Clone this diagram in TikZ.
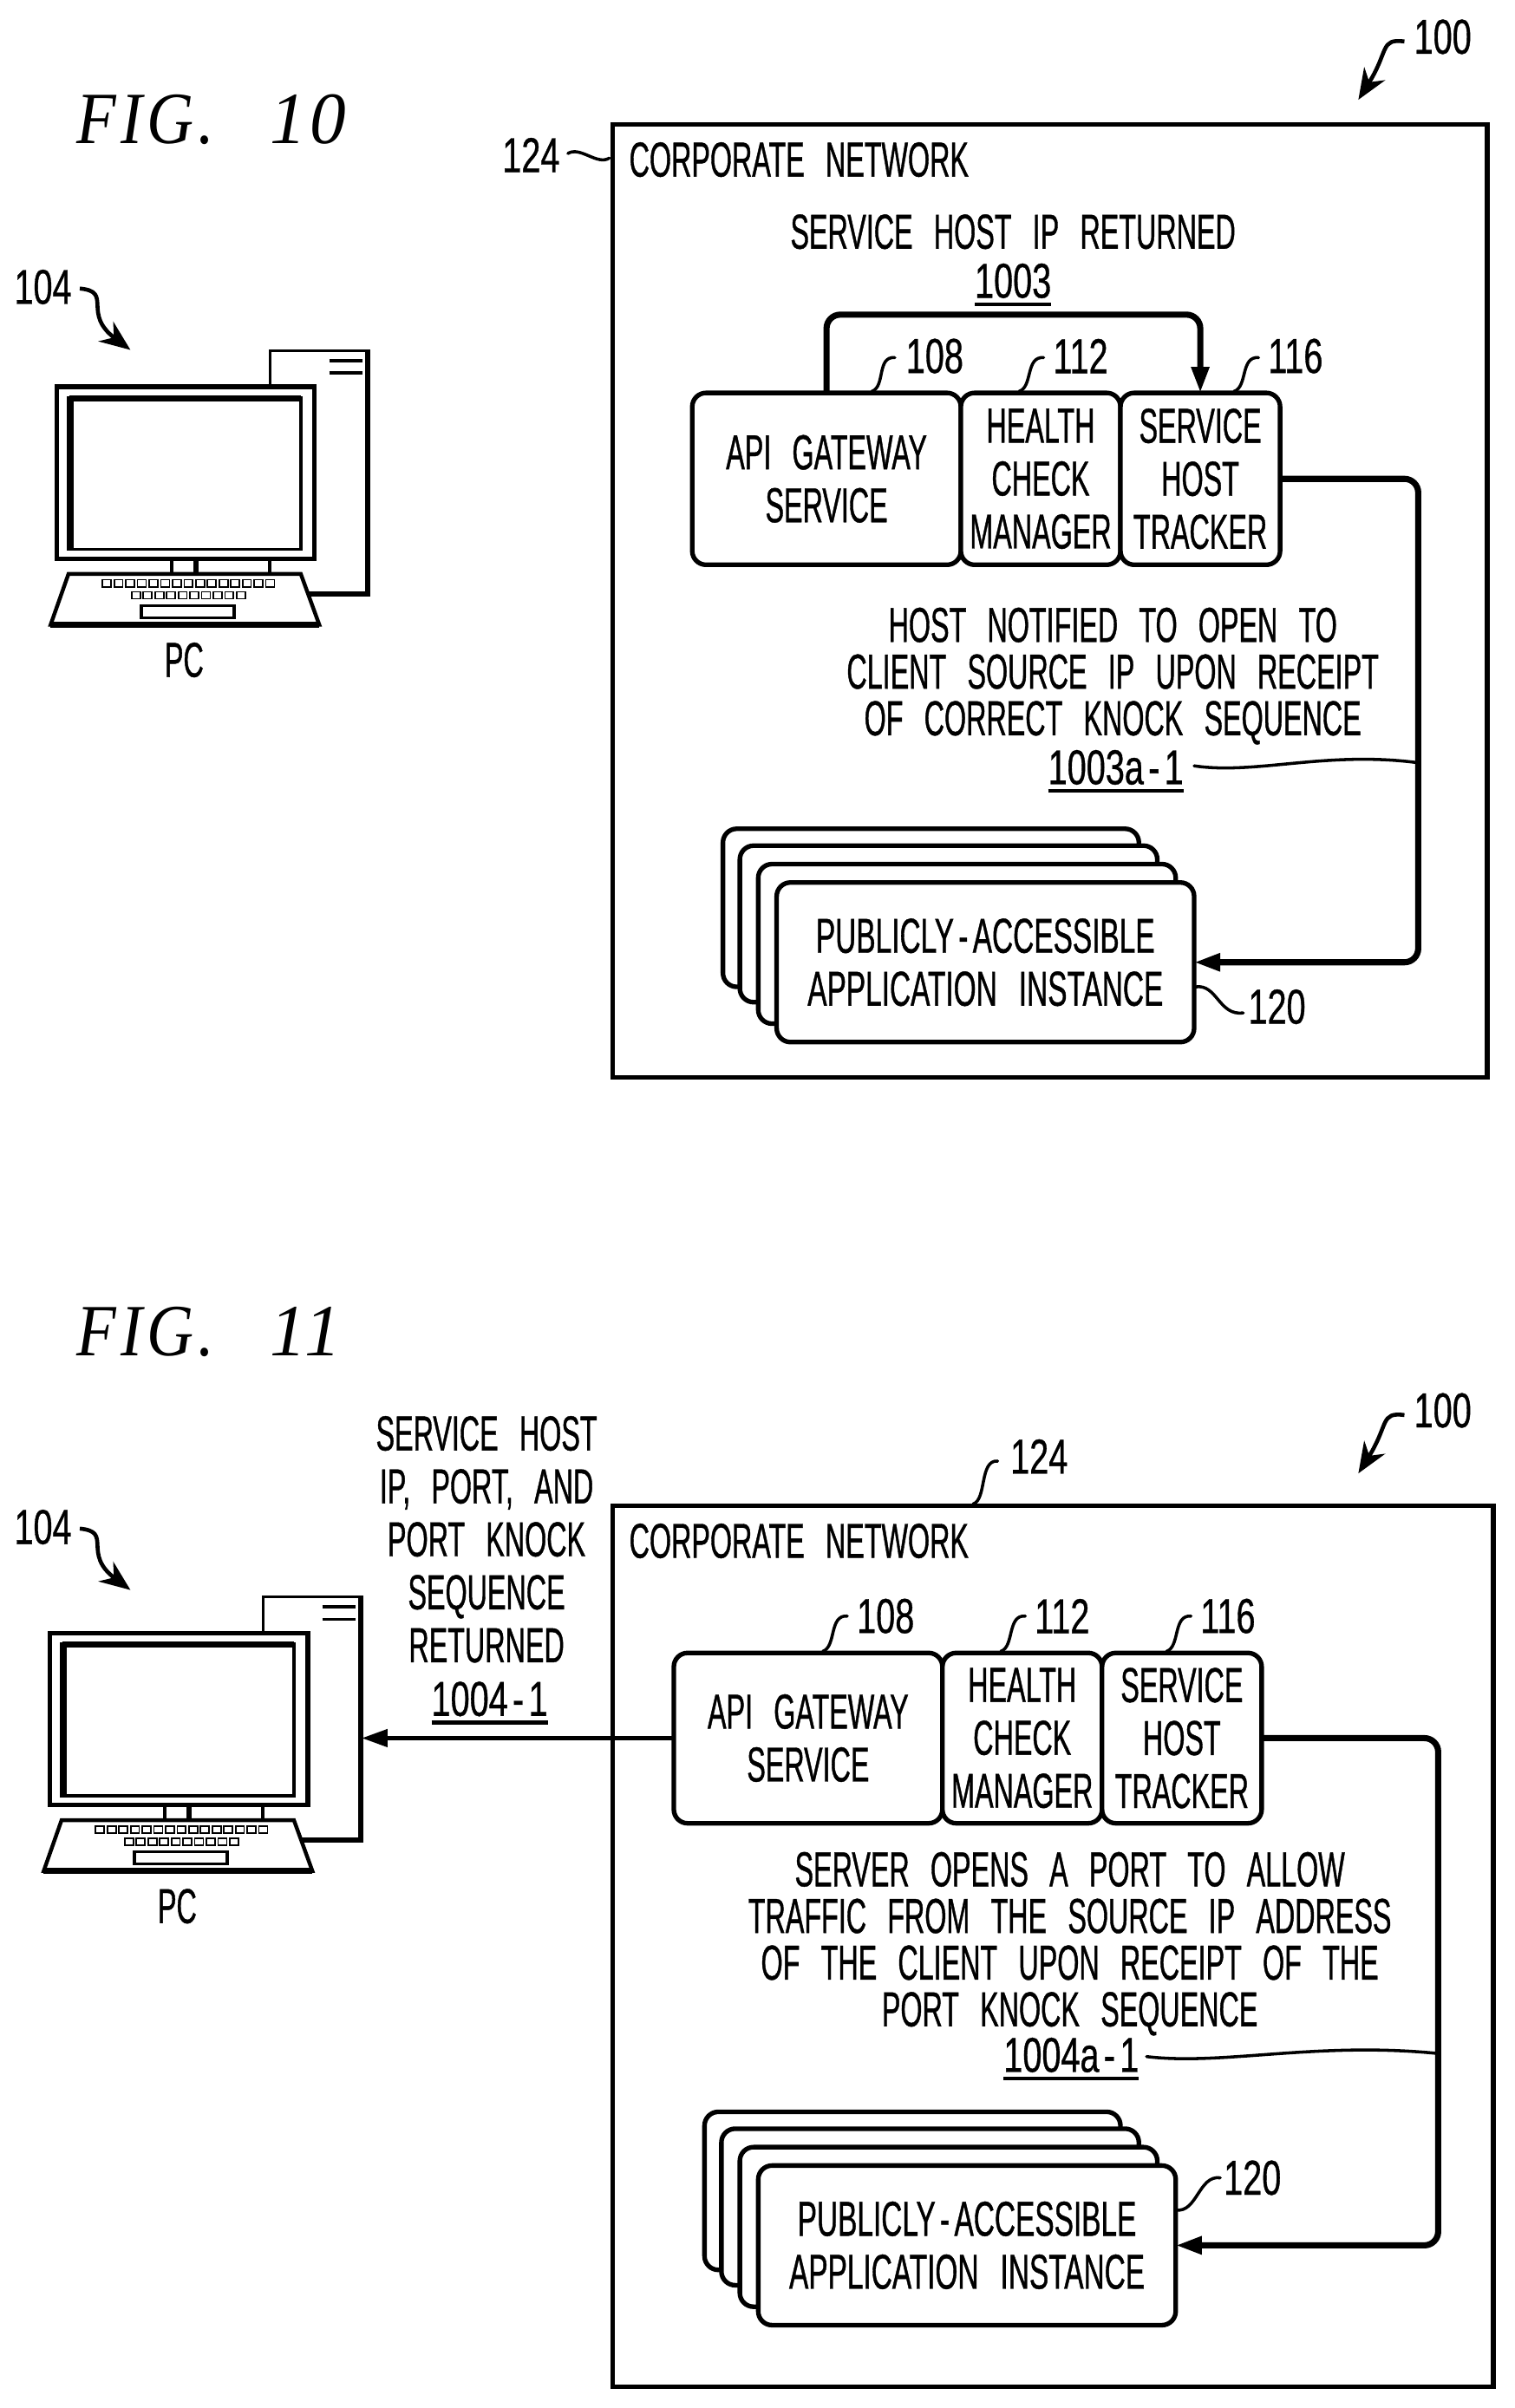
\documentclass[tikz,border=0pt]{standalone}
\usepackage{fontspec}
\usetikzlibrary{arrows.meta,calc}
\newfontfamily\patent[FakeStretch=0.57,FakeBold=0.7,WordSpace=2.7]{Liberation Sans}
\newfontfamily\patentwide[FakeStretch=0.59,FakeBold=0.7,WordSpace=2.7]{Liberation Sans}
\newfontfamily\patentnum[FakeStretch=0.7,FakeBold=0.6,WordSpace=2]{Liberation Sans}
\newfontfamily\figfonta[FakeStretch=0.88,LetterSpace=6]{Liberation Serif Italic}
\newfontfamily\figfontb[FakeStretch=0.98,LetterSpace=6]{Liberation Serif Italic}
\newsavebox{\ulbox}
\newcommand{\thickul}[1]{\sbox{\ulbox}{#1}\rlap{\raisebox{-5.5pt}[0pt][0pt]{\rule{\wd\ulbox}{2.4pt}}}\usebox{\ulbox}}
\newcommand{\dashk}{\kern3pt-\kern3pt}
\tikzset{
  boxlbl/.style={font=\fontsize{32}{34.5}\selectfont\patent,align=center,inner sep=0pt,outer sep=0pt},
  stacklbl/.style={font=\fontsize{32}{34.5}\selectfont\patentwide,align=center,inner sep=0pt,outer sep=0pt},
  notelbl/.style={font=\fontsize{32}{30.4}\selectfont\patent,align=center,inner sep=0pt},
  reflbl/.style={font=\fontsize{32}{34}\selectfont\patentnum,inner sep=0pt},
  figlbl/.style={font=\fontsize{48}{50}\selectfont,anchor=west,inner sep=0pt},
  rbox/.style={draw=black,line width=3pt,rounded corners=9pt,fill=white,inner sep=0pt,outer sep=0pt},
  frame/.style={draw=black,line width=3pt,fill=none,inner sep=0pt,outer sep=0pt},
  conn/.style={draw=black,line width=4pt,rounded corners=9pt,-{Triangle[length=17pt,width=11pt]}},
  plainconn/.style={draw=black,line width=3.2pt,-{Triangle[length=17pt,width=11pt]}},
  leaderln/.style={draw=black,line width=2pt,line cap=round},
  curlyarrow/.style={draw=black,line width=2.6pt,-{Stealth[length=20pt,width=16pt]}},
  keycap/.style={draw=black,line width=1pt,fill=white},
}
% leader: start, end, offset of first control, offset of second control
\newcommand{\leaderline}[4]{%
  \coordinate (ldA) at #1; \coordinate (ldB) at #2;
  \draw[leaderln] (ldA) .. controls ($(ldA)+#3$) and ($(ldB)+#4$) .. (ldB);}
\newcommand{\curly}[2]{%
  \coordinate (ldA) at #1; \coordinate (ldB) at #2;
  \draw[curlyarrow] (ldA) .. controls ($(ldA)+(22,2)$) and ($(ldB)+(-32,-24)$) .. (ldB);}
\newcommand{\curlyup}[2]{%
  \coordinate (ldA) at #1; \coordinate (ldB) at #2;
  \draw[curlyarrow] (ldA) .. controls ($(ldA)+(-16,-2)$) and ($(ldB)+(20,-32)$) .. (ldB);}
% PC: suffix, dx, dy
\newcommand{\pcfig}[3]{%
  \begin{scope}[shift={(#2,#3)}]
    \node[draw=black,line width=2pt,fill=white,minimum width=64pt,minimum height=159pt,inner sep=0pt,outer sep=0pt] (tw#1) at (208,308) {};
    \draw[line width=3.5pt] (239.5,228) -- (239.5,387) -- (195,387);
    \draw[line width=2pt] (214.5,235) -- (236,235) (214.5,243) -- (236,243);
    \draw[line width=2pt] (112,364) -- (112,374) (175.6,364) -- (175.6,374);
    \draw[line width=3.5pt] (127.5,364) -- (127.5,374);
    \node[draw=black,line width=3pt,fill=white,minimum width=168pt,minimum height=112pt,inner sep=0pt,outer sep=0pt] (mon#1) at (121,308) {};
    \draw[line width=2pt] (44.5,259) -- (196,259) -- (196,358) -- (44.5,358) -- cycle;
    \draw[line width=4pt] (46,258) -- (46,359) (45,259.5) -- (196,259.5);
    \draw[line width=2.5pt,fill=white] (44.6,374) -- (196,374) -- (208,407) -- (33,407) -- cycle;
    \draw[line width=4pt] (33,407) -- (208,407);
    \foreach \k in {0,...,14} {\draw[keycap] ({66.8+\k*7.6},377.7) rectangle ++(5.6,4.7);}
    \foreach \k in {0,...,9} {\draw[keycap] ({85.8+\k*7.6},385.6) rectangle ++(5.6,4.5);}
    \draw[line width=2pt,fill=white] (92,394.6) rectangle (152.5,402.5);
    \node[boxlbl] (pc#1) at (120,430) {PC};
  \end{scope}}
% application stack: suffix, dx, dy
\newcommand{\appstack}[3]{%
  \begin{scope}[shift={(#2,#3)}]
    \node[rbox,minimum width=271pt,minimum height=103pt] (st#1a) at (606.5,591.5) {};
    \node[rbox,minimum width=272pt,minimum height=102pt] (st#1b) at (618,602) {};
    \node[rbox,minimum width=272pt,minimum height=104pt] (st#1c) at (630,615) {};
    \node[rbox,minimum width=272pt,minimum height=104pt,stacklbl] (front#1) at (642,627) {PUBLICLY\dashk ACCESSIBLE\\APPLICATION INSTANCE};
  \end{scope}}
\begin{document}
\begin{tikzpicture}[x=1pt,y=-1pt]
\useasboundingbox (0,0) rectangle (987,1569);
\fill[white] (0,0) rectangle (987,1569);

%% ---------- FIG 10
\node[figlbl] (fig10) at (50,78) {{\figfonta FIG.}\hspace{36pt}{\figfontb 10}};
\node[reflbl] (r100a) at (940,24) {100};
\curlyup{(915,27)}{(885,65)}
\node[frame,minimum width=570pt,minimum height=621pt] (corpA) at (684,391.5) {};
\node[reflbl] (r124a) at (346,101) {124};
\leaderline{(370,100)}{(397,103)}{(8,-5)}{(-8,5)}
\node[boxlbl,anchor=west] (cnA) at (410,104) {CORPORATE NETWORK};
\node[boxlbl] (retA) at (660,151) {SERVICE HOST IP RETURNED};
\node[reflbl] (n1003) at (660,183) {\thickul{1003}};

\node[rbox,boxlbl,minimum width=175pt,minimum height=112pt] (apiA) at (538.5,312) {API GATEWAY\\SERVICE};
\node[rbox,boxlbl,minimum width=104pt,minimum height=112pt] (hcmA) at (678,312) {HEALTH\\CHECK\\MANAGER};
\node[rbox,boxlbl,minimum width=104pt,minimum height=112pt] (shtA) at (782,312) {SERVICE\\HOST\\TRACKER};
\node[reflbl] (r108a) at (609,232) {108};
\node[reflbl] (r112a) at (704,232) {112};
\node[reflbl] (r116a) at (844,232) {116};
\leaderline{(568,255)}{(583,233)}{(9,-3)}{(-12,-1)}
\leaderline{(664,255)}{(680,233)}{(9,-3)}{(-12,-1)}
\leaderline{(804,255)}{(820,233)}{(9,-3)}{(-12,-1)}
\coordinate (topA) at (660,205);
\draw[conn] (apiA.north) -- (apiA.north |- topA) -- (shtA.north |- topA) -- (shtA.north);

\node[notelbl] (noteA) at (725,440.5) {HOST NOTIFIED TO OPEN TO\\CLIENT SOURCE IP UPON RECEIPT\\OF CORRECT KNOCK SEQUENCE};
\node[reflbl] (n1003a) at (727,500) {\thickul{1003a\dashk 1}};
\appstack{A}{0}{0}
\coordinate (railA) at (924,450);
\draw[conn] (shtA.east) -- (shtA.east -| railA) -- (railA |- frontA.east) -- (frontA.east);
\coordinate (tapA) at (924,497);
\coordinate (tapAs) at (778,499);
\draw[leaderln] (tapAs) .. controls ($(tapAs)+(40,6)$) and ($(tapA)+(-60,-8)$) .. (tapA);
\node[reflbl] (r120a) at (832,656) {120};
\leaderline{(779,643)}{(810,660)}{(14,-2)}{(-16,2)}

\node[reflbl] (r104a) at (28,187) {104};
\curly{(52,188)}{(85,228)}
\pcfig{A}{0}{0}

%% ---------- FIG 11
\node[figlbl] (fig11) at (50,868) {{\figfonta FIG.}\hspace{36pt}{\figfontb 11}};
\node[reflbl] (r100b) at (940,919) {100};
\curlyup{(915,922)}{(885,960)}
\node[frame,minimum width=574pt,minimum height=574pt] (corpB) at (686,1268) {};
\node[reflbl] (r124b) at (677,949) {124};
\leaderline{(634,980)}{(650,952)}{(9,-3)}{(-12,-1)}
\node[boxlbl,anchor=west] (cnB) at (410,1004) {CORPORATE NETWORK};

\node[rbox,boxlbl,minimum width=175pt,minimum height=111pt] (apiB) at (526.5,1132.5) {API GATEWAY\\SERVICE};
\node[rbox,boxlbl,minimum width=104pt,minimum height=111pt] (hcmB) at (666,1132.5) {HEALTH\\CHECK\\MANAGER};
\node[rbox,boxlbl,minimum width=104pt,minimum height=111pt] (shtB) at (770,1132.5) {SERVICE\\HOST\\TRACKER};
\node[reflbl] (r108b) at (577,1053) {108};
\node[reflbl] (r112b) at (692,1053) {112};
\node[reflbl] (r116b) at (800,1053) {116};
\leaderline{(536,1076)}{(552,1053)}{(9,-3)}{(-12,-1)}
\leaderline{(652,1076)}{(668,1053)}{(9,-3)}{(-12,-1)}
\leaderline{(760,1076)}{(776,1053)}{(9,-3)}{(-12,-1)}

\pcfig{B}{-4.5}{812}
\node[reflbl] (r104b) at (28,995) {104};
\curly{(52,996)}{(85,1036)}
\node[boxlbl] (retB) at (317,1003) {SERVICE HOST\\IP, PORT, AND\\PORT KNOCK\\SEQUENCE\\RETURNED};
\node[reflbl] (n1004) at (319,1107) {\thickul{1004\dashk 1}};
\draw[plainconn] (apiB.west) -- (apiB.west -| twB.east);

\node[notelbl] (noteB) at (697,1266.5) {SERVER OPENS A PORT TO ALLOW\\TRAFFIC FROM THE SOURCE IP ADDRESS\\OF THE CLIENT UPON RECEIPT OF THE\\PORT KNOCK SEQUENCE};
\node[reflbl] (n1004a) at (698,1339) {\thickul{1004a\dashk 1}};
\appstack{B}{-12}{836}
\coordinate (railB) at (937,1300);
\draw[conn] (shtB.east) -- (shtB.east -| railB) -- (railB |- frontB.east) -- (frontB.east);
\coordinate (tapB) at (937,1338);
\coordinate (tapBs) at (747,1340);
\draw[leaderln] (tapBs) .. controls ($(tapBs)+(50,6)$) and ($(tapB)+(-80,-8)$) .. (tapB);
\node[reflbl] (r120b) at (816,1419) {120};
\leaderline{(766,1440)}{(795,1419)}{(14,2)}{(-14,-2)}
\end{tikzpicture}
\end{document}
